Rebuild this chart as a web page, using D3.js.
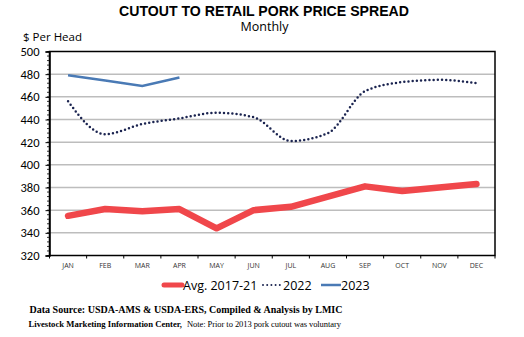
<!DOCTYPE html>
<html><head><meta charset="utf-8">
<script src="https://cdn.jsdelivr.net/npm/d3@7"></script>
<style>body{margin:0;background:#fff}svg{display:block}</style>
</head><body>
<svg id="c" width="524" height="337"></svg>
<script>
const months = ["JAN","FEB","MAR","APR","MAY","JUN","JUL","AUG","SEP","OCT","NOV","DEC"];
const avg1721 = [355,361,359,361,344,360,363,372,381,377,380,383];
const y2022 = [456,427,436,441,446,442,421,428,465,473,475,472];
const y2023 = [479,474.5,469.5,477];
const yTicks = [320,340,360,380,400,420,440,460,480,500];

const svg = d3.select("#c");
const L=49.5, R=495, T=51.5, B=255.5;
const x = d3.scaleBand().domain(months).range([L,R]);
const y = d3.scaleLinear().domain([320,500]).range([B,T]);
const cx = m => x(m)+x.bandwidth()/2;

// gridlines
svg.append("g").selectAll("line").data(yTicks.slice(1,-1)).join("line")
  .attr("x1",L).attr("x2",R).attr("y1",d=>y(d)).attr("y2",d=>y(d))
  .attr("stroke","#bdbdbd").attr("stroke-width",1.5);

// frame
svg.append("rect").attr("x",L).attr("y",T).attr("width",R-L).attr("height",B-T)
  .attr("fill","none").attr("stroke","#000").attr("stroke-width",1.5);

// y axis
const ya = svg.append("g").attr("transform",`translate(${L},0)`)
  .call(d3.axisLeft(y).tickValues(yTicks).tickSize(4).tickPadding(6));
ya.select(".domain").attr("stroke","#000").attr("stroke-width",1.5);
ya.selectAll("text").attr("font-family","Calibri, Carlito, 'Liberation Sans', Arial, sans-serif").attr("font-size",12.5).attr("fill","#000");
const minor = d3.range(320,500.1,4);
svg.append("g").selectAll("line").data(minor).join("line")
  .attr("x1",L-2.5).attr("x2",L).attr("y1",d=>y(d)).attr("y2",d=>y(d)).attr("stroke","#000").attr("stroke-width",0.8);

// x axis
const xa = svg.append("g").attr("transform",`translate(0,${B})`)
  .call(d3.axisBottom(x).tickSize(0).tickPadding(8));
xa.select(".domain").remove();
xa.selectAll("text").attr("font-family","'Open Sans', 'Liberation Sans', Arial, sans-serif").attr("font-size",7).attr("fill","#333");
svg.append("g").selectAll("line").data(months.map(m=>x(m)).concat([R])).join("line")
  .attr("x1",d=>d).attr("x2",d=>d).attr("y1",B).attr("y2",B+3).attr("stroke","#000").attr("stroke-width",1);

// series
const lineLin = d3.line().x((d,i)=>cx(months[i])).y(d=>y(d));
const lineSm = d3.line().x((d,i)=>cx(months[i])).y(d=>y(d)).curve(d3.curveMonotoneX);
svg.append("path").datum(avg1721).attr("d",lineLin).attr("fill","none")
  .attr("stroke","#f0474b").attr("stroke-width",6.5).attr("stroke-linejoin","round").attr("stroke-linecap","round");
svg.append("path").datum(y2022).attr("d",lineSm).attr("fill","none")
  .attr("stroke","#1b2450").attr("stroke-width",2.5).attr("stroke-dasharray","0 4.2").attr("stroke-linecap","round");
svg.append("path").datum(y2023).attr("d",lineLin).attr("fill","none")
  .attr("stroke","#4a7ab5").attr("stroke-width",2.5);

// titles
svg.append("text").attr("x",119).attr("y",15.5)
  .attr("font-family","'Liberation Sans', Arial, sans-serif").attr("font-weight","bold").attr("font-size",14.2)
  .attr("textLength",290).attr("lengthAdjust","spacingAndGlyphs").text("CUTOUT TO RETAIL PORK PRICE SPREAD");
svg.append("text").attr("x",264.5).attr("y",30.5).attr("text-anchor","middle")
  .attr("font-family","'Open Sans', Calibri, sans-serif").attr("font-size",12.5).text("Monthly");
svg.append("text").attr("x",23).attr("y",41).attr("font-family","'Open Sans', Calibri, sans-serif").attr("font-size",11.5).text("$ Per Head");

// legend
const lg = svg.append("g").attr("font-family","'Open Sans', Calibri, sans-serif").attr("font-size",12.5);
lg.append("line").attr("x1",164).attr("x2",182).attr("y1",285).attr("y2",285).attr("stroke","#f0474b").attr("stroke-width",5).attr("stroke-linecap","round");
lg.append("text").attr("x",183).attr("y",289.5).text("Avg. 2017-21");
lg.append("line").attr("x1",263).attr("x2",282).attr("y1",285).attr("y2",285).attr("stroke","#1b2450").attr("stroke-width",2).attr("stroke-dasharray","0 4.2").attr("stroke-linecap","round");
lg.append("text").attr("x",283).attr("y",289.5).text("2022");
lg.append("line").attr("x1",321).attr("x2",341).attr("y1",285).attr("y2",285).attr("stroke","#4a7ab5").attr("stroke-width",2.5);
lg.append("text").attr("x",341).attr("y",289.5).text("2023");

// footer
const serif = "'Liberation Serif', 'Times New Roman', serif";
svg.append("text").attr("x",29.5).attr("y",313).attr("font-family",serif).attr("font-weight","bold").attr("font-size",10.5)
  .attr("textLength",313).attr("lengthAdjust","spacingAndGlyphs")
  .text("Data Source:  USDA-AMS & USDA-ERS, Compiled & Analysis by LMIC");
svg.append("text").attr("x",28.5).attr("y",326.5).attr("font-family",serif).attr("font-weight","bold").attr("font-size",8.5)
  .attr("textLength",153.5).attr("lengthAdjust","spacingAndGlyphs").text("Livestock Marketing Information  Center,");
svg.append("text").attr("x",187).attr("y",326.5).attr("font-family",serif).attr("font-size",8.5)
  .attr("textLength",154).attr("lengthAdjust","spacing").text("Note: Prior to 2013 pork cutout was voluntary");
</script>
</body></html>
